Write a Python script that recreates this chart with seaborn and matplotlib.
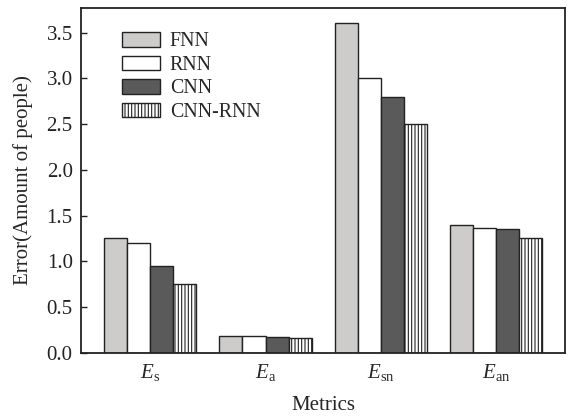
import matplotlib
matplotlib.use("Agg")
import matplotlib.pyplot as plt
import seaborn as sns
import pandas as pd

metrics = ["$E_\\mathrm{s}$", "$E_\\mathrm{a}$", "$E_\\mathrm{sn}$", "$E_\\mathrm{an}$"]
models = ["FNN", "RNN", "CNN", "CNN-RNN"]
fnn = [1.25, 0.18, 3.60, 1.40]
rnn = [1.20, 0.18, 3.00, 1.36]
cnn = [0.95, 0.17, 2.80, 1.35]
cnn_rnn = [0.75, 0.16, 2.50, 1.25]

rows = []
for m, vals in zip(models, [fnn, rnn, cnn, cnn_rnn]):
    for k, v in zip(metrics, vals):
        rows.append({"Metric": k, "Model": m, "Error": v})
df = pd.DataFrame(rows)

sns.set_theme(style="ticks")
plt.rcParams["font.family"] = ["Liberation Serif", "DejaVu Serif"]
plt.rcParams["mathtext.fontset"] = "custom"
plt.rcParams["mathtext.rm"] = "Liberation Serif"
plt.rcParams["mathtext.it"] = "Liberation Serif:italic"
plt.rcParams["hatch.linewidth"] = 0.8
plt.rcParams["hatch.color"] = "#333333"

fig = plt.figure(figsize=(5.75, 4.16), dpi=100)
ax = fig.add_axes([0.141, 0.152, 0.842, 0.829])

colors = ["#cdcccb", "#ffffff", "#5a5a5a", "#ffffff"]
sns.barplot(data=df, x="Metric", y="Error", hue="Model", hue_order=models,
            palette=colors, edgecolor="#222222", linewidth=1.0,
            saturation=1, ax=ax, width=0.8, legend=True)

hatches = [None, None, None, "|||||"]
for cont, h in zip(ax.containers, hatches):
    for p in cont:
        if h:
            p.set_hatch(h)

ax.set_ylim(0, 3.77)
ax.set_xlim(-0.6, 3.6)
ax.set_yticks([0, 0.5, 1.0, 1.5, 2.0, 2.5, 3.0, 3.5])
ax.set_yticklabels(["0.0", "0.5", "1.0", "1.5", "2.0", "2.5", "3.0", "3.5"])
ax.tick_params(axis="y", direction="in", length=4, width=1, labelsize=15,
               colors="#222222", pad=6)
ax.tick_params(axis="x", length=0, labelsize=15, pad=7)
for s in ax.spines.values():
    s.set_linewidth(1.3)
    s.set_color("#222222")
ax.set_xlabel("Metrics", fontsize=15, labelpad=9)
ax.set_ylabel("Error(Amount of people)", fontsize=15, labelpad=10)

leg = ax.legend(loc="upper left", bbox_to_anchor=(0.085, 0.93), frameon=False,
                fontsize=14.3, handlelength=1.9, handleheight=0.75,
                labelspacing=0.22, handletextpad=0.5, borderpad=0,
                borderaxespad=0)
for hnd, h in zip(leg.legend_handles, hatches):
    hnd.set_edgecolor("#222222")
    hnd.set_linewidth(1.0)
    if h:
        hnd.set_hatch(h)

fig.savefig("out.png", dpi=100)
